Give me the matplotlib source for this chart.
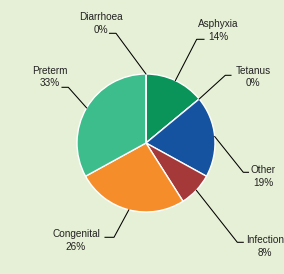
import numpy as np
import matplotlib
matplotlib.use("Agg")
import matplotlib.pyplot as plt

categories = ["Asphyxia", "Tetanus", "Other", "Infection", "Congenital", "Preterm", "Diarrhoea"]
values = [14, 0, 19, 8, 26, 33, 0]
colors = ["#0a9459", "#1a7a5a", "#1553a0", "#a5393a", "#f58d2b", "#3dbd8c", "#3dbd8c"]

W, H = 284, 274
fig = plt.figure(figsize=(W / 100, H / 100), dpi=100)
bg = "#e6f0d6"
fig.patch.set_facecolor(bg)
ax = fig.add_axes([0, 0, 1, 1])
ax.set_facecolor(bg)

cx, cy, R = 146, H - 143, 69
ax.pie(values, colors=colors, startangle=90, counterclock=False,
       center=(cx, cy), radius=R, frame=True,
       wedgeprops=dict(edgecolor="white", linewidth=1.0))
ax.set_xlim(0, W)
ax.set_ylim(0, H)
ax.set_aspect("equal")
ax.axis("off")

# layout: label text centre (pixel coords, y down), elbow, end of horizontal segment
layout = {
    "Asphyxia":   ((218, 24), (196.7, 39.3), (204, 39.3)),
    "Tetanus":    ((253, 71), (225.3, 75.3), (231, 75.3)),
    "Other":      ((263, 170), (243.3, 172.3), (248.5, 172.3)),
    "Infection":  ((265, 240), (237.3, 242.3), (243.3, 242.3)),
    "Congenital": ((76, 234), (114, 237.3), (105, 237.3)),
    "Preterm":    ((50, 71), (68.3, 87.3), (62, 87.3)),
    "Diarrhoea":  ((101, 17.5), (116, 33.3), (109.5, 33.3)),
}

total = sum(values)
cum = 0
for cat, v in zip(categories, values):
    mid = (cum + v / 2) / total
    cum += v
    ang = np.deg2rad(90 - 360 * mid)
    sx, sy = cx + R * np.cos(ang), cy + R * np.sin(ang)
    (tx, ty), (ex, ey), (hx, hy) = layout[cat]
    ax.plot([sx, ex, hx], [sy, H - ey, H - hy], color="black", lw=0.75,
            solid_joinstyle="miter")
    ax.text(tx, H - ty, cat, ha="center", va="center", fontsize=7.2,
            family="Liberation Sans", color="#222222")
    ax.text(tx, H - ty - 12.5, f"{v}%", ha="center", va="center", fontsize=7.2,
            family="Liberation Sans", color="#222222")

fig.savefig("out.png", dpi=100, facecolor=bg)
